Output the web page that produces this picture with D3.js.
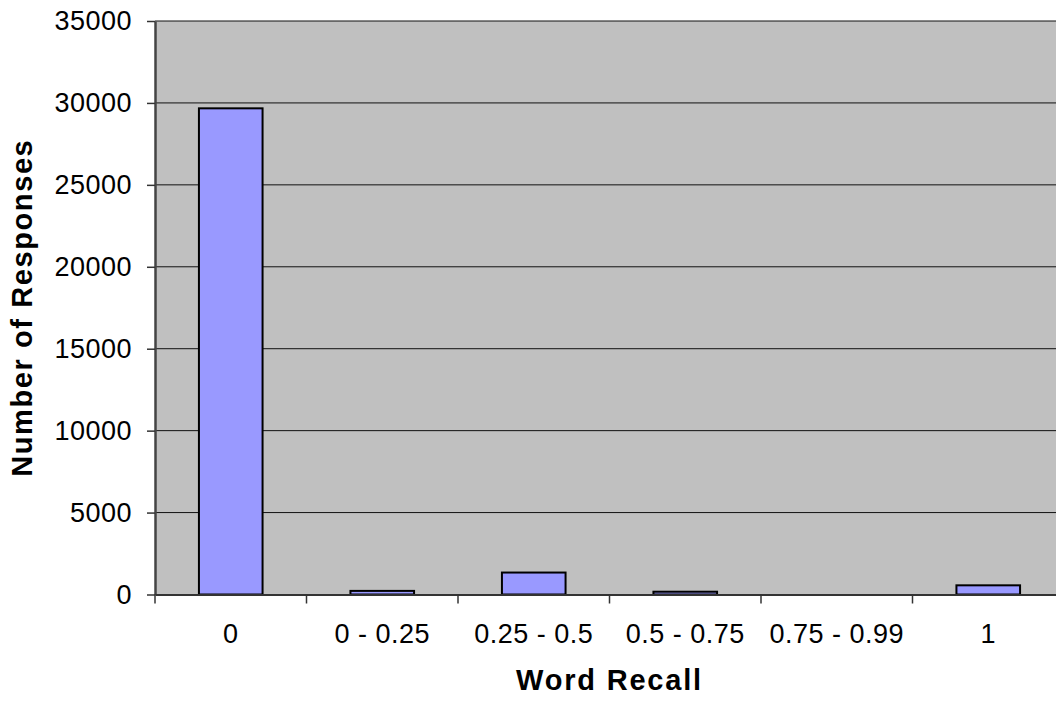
<!DOCTYPE html>
<html><head><meta charset="utf-8">
<script src="https://cdn.jsdelivr.net/npm/d3@7"></script>
<style>body{margin:0;background:#fff}svg{display:block}</style>
</head><body>
<svg id="c" width="1056" height="701"></svg>
<script>
const categories = ["0", "0 - 0.25", "0.25 - 0.5", "0.5 - 0.75", "0.75 - 0.99", "1"];
const responses = [29670, 220, 1340, 170, 0, 560];
const yTicks = [0, 5000, 10000, 15000, 20000, 25000, 30000, 35000];

(function () {
const svg = d3.select("#c");
const pL = 155, pR = 1064, pT = 21, pB = 594.5;
const x = d3.scaleBand().domain(categories).range([pL, pR]).paddingInner(0.58).paddingOuter(0.29);
const xc = d3.scaleBand().domain(categories).range([pL, pR]);
const y = d3.scaleLinear().domain([0, 35000]).range([pB, pT]);
const font = "Arial, 'Liberation Sans', sans-serif";

svg.append("rect").attr("x", pL).attr("y", pT).attr("width", pR - pL).attr("height", pB - pT).attr("fill", "#C0C0C0");

svg.append("g").selectAll("line").data(yTicks.filter(d => d > 0)).join("line")
  .attr("x1", pL).attr("x2", pR).attr("y1", d => y(d)).attr("y2", d => y(d))
  .attr("stroke", "#111").attr("stroke-width", 1);

svg.append("g").selectAll("rect").data(categories).join("rect")
  .attr("x", d => x(d)).attr("width", x.bandwidth())
  .attr("y", (d, i) => y(responses[i])).attr("height", (d, i) => pB - y(responses[i]))
  .attr("fill", "#9999FF").attr("stroke", "#000").attr("stroke-width", 2);

const ya = svg.append("g").attr("transform", `translate(${pL},0)`)
  .call(d3.axisLeft(y).tickValues(yTicks).tickFormat(d3.format("d")).tickSize(8).tickSizeOuter(0).tickPadding(15));
ya.select(".domain").attr("stroke", "#444").attr("stroke-width", 2.5);
ya.selectAll(".tick line").attr("stroke", "#333").attr("stroke-width", 1.5);
ya.selectAll("text").attr("font-family", font).attr("font-size", 27).attr("letter-spacing", 0.5).attr("fill", "#000");

const xa = svg.append("g").attr("transform", `translate(0,${pB})`)
  .call(d3.axisBottom(xc).tickSize(0).tickSizeOuter(0));
xa.select(".domain").attr("stroke", "#333").attr("stroke-width", 2);
xa.selectAll("text").attr("font-family", font).attr("font-size", 27).attr("letter-spacing", 0.5)
  .attr("fill", "#000").attr("dy", null).attr("y", 48.5);
svg.append("g").selectAll("line").data(categories).join("line")
  .attr("x1", d => xc(d)).attr("x2", d => xc(d)).attr("y1", pB).attr("y2", pB + 9)
  .attr("stroke", "#333").attr("stroke-width", 1.5);

svg.append("text").attr("x", (pL + pR) / 2).attr("y", 690)
  .attr("text-anchor", "middle").attr("font-family", font).attr("font-size", 29).attr("font-weight", "bold")
  .attr("letter-spacing", 1.8)
  .text("Word Recall");
svg.append("text").attr("transform", `translate(32,${(pT + pB) / 2}) rotate(-90)`)
  .attr("text-anchor", "middle").attr("font-family", font).attr("font-size", 29).attr("font-weight", "bold")
  .attr("letter-spacing", 1.6)
  .text("Number of Responses");
})();
</script>
</body></html>
